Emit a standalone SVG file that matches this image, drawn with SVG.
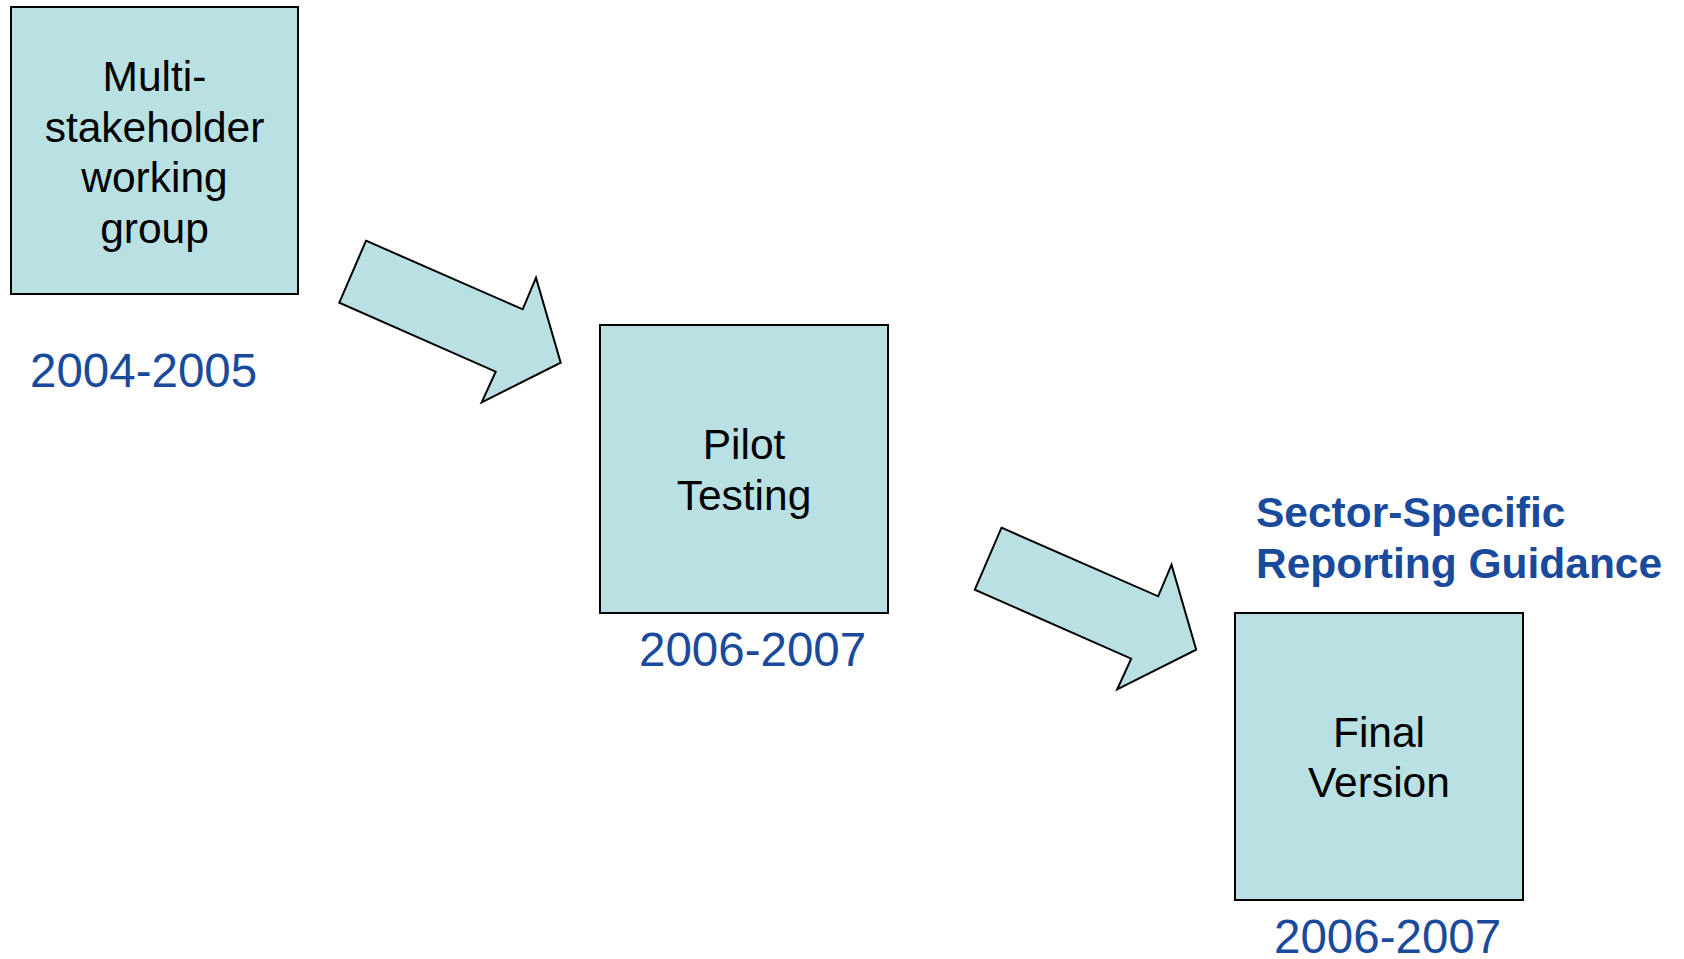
<svg xmlns="http://www.w3.org/2000/svg" width="1684" height="959" viewBox="0 0 1684 959">
<style>
.box{fill:#b9e0e3;stroke:#000;stroke-width:2}
.arrow{fill:#b9e0e3;stroke:#000;stroke-width:2;stroke-linejoin:miter}
.lbl{font-family:"Liberation Sans",Arial,sans-serif;font-size:42.5px;fill:#000;text-anchor:middle}
.yr{font-family:"Liberation Sans",Arial,sans-serif;font-size:47.5px;fill:#1a4a9b}
.ttl{font-family:"Liberation Sans",Arial,sans-serif;font-size:42.5px;font-weight:bold;fill:#1a4a9b}
</style>
<rect width="1684" height="959" fill="#fff"/>
<defs>
<polygon id="arr" points="366,240.7 522.7,309.3 536,277.7 560.7,362.7 481.7,402.3 495.7,371.7 339.3,302.7"/>
</defs>
<g id="connectors">
<use href="#arr" class="arrow"/>
<use href="#arr" class="arrow" transform="translate(635.5,287)"/>
</g>
<g id="node-working-group">
<rect class="box" x="11" y="7" width="287" height="287"/>
<text class="lbl"><tspan x="154.5" y="91">Multi-</tspan><tspan x="154.5" y="141.5">stakeholder</tspan><tspan x="154.5" y="192">working</tspan><tspan x="154.5" y="243">group</tspan></text>
<text class="yr" x="30" y="387">2004-2005</text>
</g>
<g id="node-pilot">
<rect class="box" x="600" y="325" width="288" height="288"/>
<text class="lbl"><tspan x="744" y="459">Pilot</tspan><tspan x="744" y="510">Testing</tspan></text>
<text class="yr" x="639" y="666">2006-2007</text>
</g>
<g id="node-final">
<text class="ttl"><tspan x="1256" y="526.5">Sector-Specific</tspan><tspan x="1256" y="577.5">Reporting Guidance</tspan></text>
<rect class="box" x="1235" y="613" width="288" height="287"/>
<text class="lbl"><tspan x="1379" y="746.5">Final</tspan><tspan x="1379" y="797">Version</tspan></text>
<text class="yr" x="1274" y="953">2006-2007</text>
</g>
</svg>
